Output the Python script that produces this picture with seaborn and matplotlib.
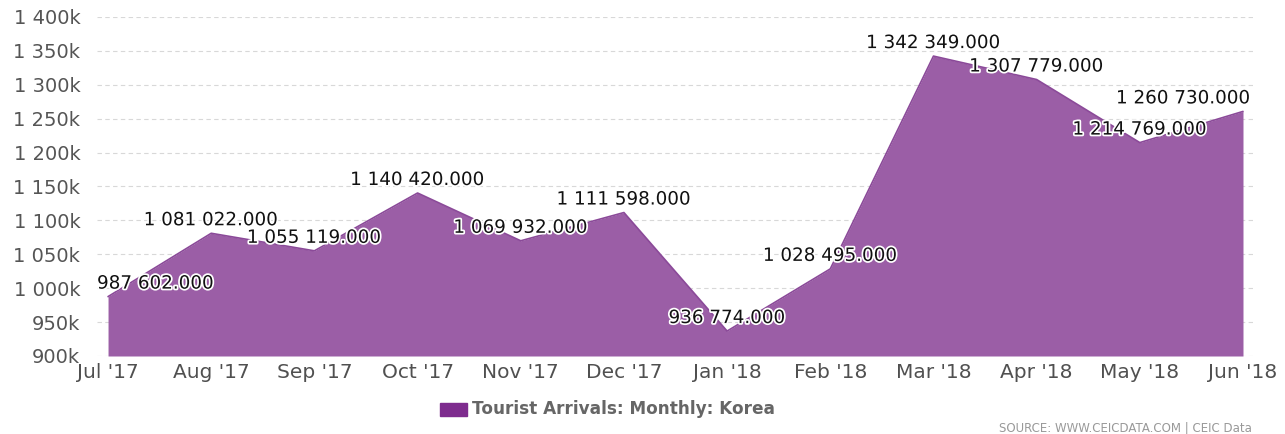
import numpy as np
import pandas as pd
import seaborn as sns
import matplotlib.pyplot as plt
import matplotlib.patheffects as pe
from matplotlib.patches import Rectangle

sns.set_style("white")
plt.rcParams['font.family'] = ['DejaVu Sans']

months = ["Jul '17", "Aug '17", "Sep '17", "Oct '17", "Nov '17", "Dec '17",
          "Jan '18", "Feb '18", "Mar '18", "Apr '18", "May '18", "Jun '18"]
arrivals = [987602, 1081022, 1055119, 1140420, 1069932, 1111598,
            936774, 1028495, 1342349, 1307779, 1214769, 1260730]
y_ticks = [900000, 950000, 1000000, 1050000, 1100000, 1150000, 1200000,
           1250000, 1300000, 1350000, 1400000]

df = pd.DataFrame({"pos": np.arange(len(months)), "month": months, "value": arrivals})

fill_col = "#9b5ea6"
line_col = "#8b4a99"

fig = plt.figure(figsize=(12.85, 4.34), dpi=100)
ax = fig.add_axes([97 / 1285, 78 / 434, (1253 - 97) / 1285, (417 - 78) / 434])

ax.fill_between(df["pos"], df["value"], 900000, color=fill_col, lw=0, zorder=2)
sns.lineplot(data=df, x="pos", y="value", ax=ax, color=line_col, lw=1.2, zorder=3)

ax.set_xlim(-0.107, 11.097)
ax.set_ylim(900000, 1400000)
ax.set_xticks(df["pos"])
ax.set_xticklabels(months, fontsize=14.5, color="#505050")
ax.set_yticks(y_ticks)

def kfmt(v):
    k = int(v // 1000)
    return f"{k:,}k".replace(",", " ")

ax.set_yticklabels([kfmt(v) for v in y_ticks], fontsize=14, color="#555555")
ax.tick_params(axis="both", length=0)
ax.tick_params(axis="y", pad=12)
ax.tick_params(axis="x", pad=5)
ax.set_xlabel("")
ax.set_ylabel("")
for s in ax.spines.values():
    s.set_visible(False)
ax.yaxis.grid(True, color="#d8d8d8", ls=(0, (4, 3)), lw=0.8, zorder=1)
ax.set_axisbelow(True)

n = len(arrivals)
for i, v in enumerate(arrivals):
    lab = f"{v:,.3f}".replace(",", " ")
    ha, dx = "center", 0
    if i == 0:
        ha, dx = "left", -11
    elif i == n - 1:
        ha, dx = "right", 8
    ax.annotate(lab, (i, v), xytext=(dx, 13), textcoords="offset pixels",
                ha=ha, va="center", fontsize=13.2, color="#111111", zorder=5,
                path_effects=[pe.withStroke(linewidth=2.5, foreground="white")])

# legend
fig.patches.append(Rectangle((440 / 1285, (434 - 416) / 434), 27 / 1285, 13 / 434,
                             transform=fig.transFigure, color="#7e2c8e", figure=fig))
fig.text(472 / 1285, (434 - 409) / 434, "Tourist Arrivals: Monthly: Korea",
         fontsize=12.2, fontweight="bold", color="#666666", va="center", ha="left")
fig.text(1252 / 1285, (434 - 428) / 434, "SOURCE: WWW.CEICDATA.COM | CEIC Data",
         fontsize=8.5, color="#999999", va="center", ha="right")

fig.savefig("out.png", dpi=100, facecolor="white")
